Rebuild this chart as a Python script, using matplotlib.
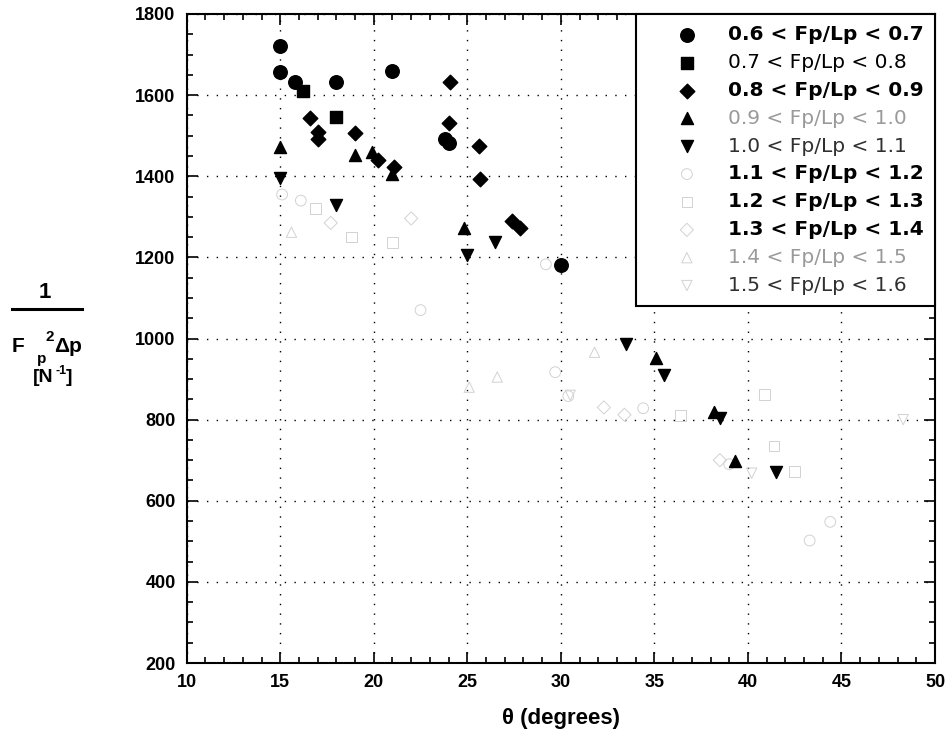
import matplotlib
matplotlib.use("Agg")
import matplotlib.pyplot as plt
from matplotlib.lines import Line2D
from matplotlib.ticker import MultipleLocator

plt.rcParams['font.family'] = ['Liberation Sans', 'DejaVu Sans']

# theta (degrees) and 1/(Fp^2 dp) [N^-1] for each Fp/Lp band
th_06 = [15.0, 15.0, 15.8, 18.0, 21.0, 23.8, 24.0, 30.0]
val_06 = [1720, 1656, 1632, 1633, 1660, 1492, 1482, 1182]

th_07 = [16.2, 18.0]
val_07 = [1610, 1547]

th_08 = [16.6, 17.0, 17.0, 19.0, 20.2, 21.1, 24.1, 24.0, 25.6, 25.7, 27.4, 27.8]
val_08 = [1543, 1510, 1492, 1506, 1441, 1422, 1633, 1531, 1475, 1393, 1289, 1273]

th_09 = [15.0, 19.0, 19.9, 21.0, 24.8, 35.1, 38.2, 39.3]
val_09 = [1472, 1453, 1461, 1405, 1272, 953, 819, 699]

th_10 = [15.0, 18.0, 25.0, 26.5, 33.5, 35.5, 38.5, 41.5]
val_10 = [1396, 1330, 1205, 1237, 986, 909, 803, 670]

th_11 = [15.1, 16.1, 22.5, 29.2, 29.7, 30.4, 34.4, 39.0, 43.3, 44.4]
val_11 = [1355, 1340, 1070, 1183, 917, 858, 828, 690, 502, 548]

th_12 = [16.9, 18.8, 21.0, 36.4, 40.9, 41.4, 42.5]
val_12 = [1320, 1250, 1237, 810, 862, 735, 672]

th_13 = [17.7, 22.0, 32.3, 33.4, 38.5]
val_13 = [1285, 1296, 830, 812, 700]

th_14 = [15.6, 25.1, 26.6, 31.8]
val_14 = [1262, 880, 905, 966]

th_15 = [30.5, 40.2, 48.3]
val_15 = [860, 668, 800]

labels = ['0.6 < Fp/Lp < 0.7', '0.7 < Fp/Lp < 0.8', '0.8 < Fp/Lp < 0.9',
          '0.9 < Fp/Lp < 1.0', '1.0 < Fp/Lp < 1.1', '1.1 < Fp/Lp < 1.2',
          '1.2 < Fp/Lp < 1.3', '1.3 < Fp/Lp < 1.4', '1.4 < Fp/Lp < 1.5',
          '1.5 < Fp/Lp < 1.6']

fig = plt.figure(figsize=(9.51, 7.46), dpi=100)
ax = fig.add_axes([186.7/951, 1-663/746, (935-186.7)/951, (663-14)/746])

ax.scatter(th_06, val_06, marker='o', s=95, c='black', label=labels[0], zorder=3)
ax.scatter(th_07, val_07, marker='s', s=85, c='black', label=labels[1], zorder=3)
ax.scatter(th_08, val_08, marker='D', s=55, c='black', label=labels[2], zorder=3)
ax.scatter(th_09, val_09, marker='^', s=75, c='black', label=labels[3], zorder=3)
ax.scatter(th_10, val_10, marker='v', s=75, c='black', label=labels[4], zorder=3)

faint = '#d2d2d2'
ax.scatter(th_11, val_11, marker='o', s=60, facecolors='none', edgecolors=faint, linewidths=0.7, label=labels[5], zorder=2)
ax.scatter(th_12, val_12, marker='s', s=60, facecolors='none', edgecolors=faint, linewidths=0.7, label=labels[6], zorder=2)
ax.scatter(th_13, val_13, marker='D', s=45, facecolors='none', edgecolors=faint, linewidths=0.7, label=labels[7], zorder=2)
ax.scatter(th_14, val_14, marker='^', s=55, facecolors='none', edgecolors=faint, linewidths=0.7, label=labels[8], zorder=2)
ax.scatter(th_15, val_15, marker='v', s=55, facecolors='none', edgecolors=faint, linewidths=0.7, label=labels[9], zorder=2)

ax.set_xlim(10, 50)
ax.set_ylim(200, 1800)
ax.xaxis.set_major_locator(MultipleLocator(5))
ax.xaxis.set_minor_locator(MultipleLocator(1))
ax.yaxis.set_major_locator(MultipleLocator(200))
ax.yaxis.set_minor_locator(MultipleLocator(50))
ax.tick_params(which='both', direction='in', top=True, right=True, width=1.2)
ax.tick_params(which='major', length=8, labelsize=13, pad=8)
ax.tick_params(which='minor', length=4)
for lab in ax.get_xticklabels() + ax.get_yticklabels():
    lab.set_fontweight('bold')
for sp in ax.spines.values():
    sp.set_linewidth(1.5)
ax.grid(True, which='major', linestyle=(0, (1, 6)), color='black', linewidth=1.0)

ax.set_xlabel('θ (degrees)', fontsize=16, fontweight='bold', labelpad=12)

leg = ax.legend(loc='upper right', bbox_to_anchor=(1, 1), borderaxespad=0,
                fancybox=False, framealpha=1, edgecolor='black',
                prop={'family': 'DejaVu Sans', 'size': 14.5},
                handlelength=4.0, handletextpad=0.05, labelspacing=0.44,
                borderpad=0.55, scatterpoints=1)
leg.get_frame().set_linewidth(1.5)
weights = ['bold', 'normal', 'bold', 'normal', 'normal', 'bold', 'bold', 'bold', 'normal', 'normal']
colors = ['black', 'black', 'black', '#9a9a9a', '#303030', 'black', 'black', 'black', '#9a9a9a', '#303030']
for t, w, c in zip(leg.get_texts(), weights, colors):
    t.set_fontweight(w)
    t.set_color(c)

# y-axis label drawn as a stacked fraction
def fx(px):
    return px / 951

def fy(py):
    return 1 - py / 746

fig.text(fx(45), fy(293), '1', fontsize=16, fontweight='bold', ha='center', va='center')
fig.add_artist(Line2D([fx(12), fx(82)], [fy(309), fy(309)], color='black', linewidth=2.2))
fig.text(fx(12), fy(346), 'F', fontsize=15, fontweight='bold', ha='left', va='center')
fig.text(fx(37), fy(359), 'p', fontsize=11, fontweight='bold', ha='left', va='center')
fig.text(fx(46), fy(337), '2', fontsize=11, fontweight='bold', ha='left', va='center')
fig.text(fx(54), fy(346), 'Δp', fontsize=15, fontweight='bold', ha='left', va='center')
fig.text(fx(33), fy(378), '[N', fontsize=14, fontweight='bold', ha='left', va='center')
fig.text(fx(56), fy(371), '-1', fontsize=9, fontweight='bold', ha='left', va='center')
fig.text(fx(66), fy(378), ']', fontsize=14, fontweight='bold', ha='left', va='center')

fig.savefig('out.png', dpi=100)
